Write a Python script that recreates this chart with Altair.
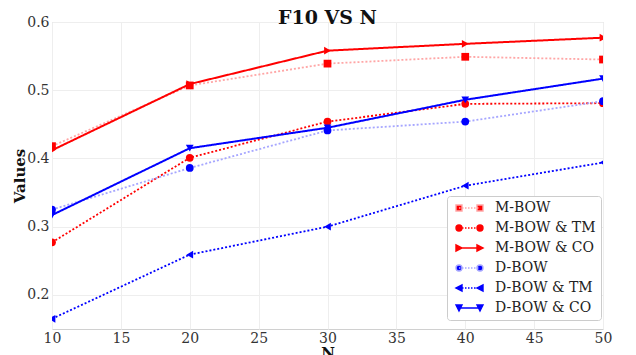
import altair as alt
import pandas as pd

# ---------------- data ----------------
N = [10, 20, 30, 40, 50]
series_names = ["M-BOW", "M-BOW & TM", "M-BOW & CO", "D-BOW", "D-BOW & TM", "D-BOW & CO"]
m_bow = [0.418, 0.507, 0.539, 0.549, 0.545]
m_bow_tm = [0.277, 0.401, 0.454, 0.480, 0.481]
m_bow_co = [0.412, 0.509, 0.558, 0.568, 0.577]
d_bow = [0.325, 0.386, 0.441, 0.454, 0.484]
d_bow_tm = [0.165, 0.259, 0.300, 0.360, 0.394]
d_bow_co = [0.317, 0.415, 0.445, 0.486, 0.517]
values = [m_bow, m_bow_tm, m_bow_co, d_bow, d_bow_tm, d_bow_co]

x_ticks = [10, 15, 20, 25, 30, 35, 40, 45, 50]
y_ticks = [0.2, 0.3, 0.4, 0.5, 0.6]

# ---------------- styles ----------------
RED, BLUE = "#ff0000", "#0000ff"
LRED, LBLUE = "#ffa6a6", "#a6a6ff"
colors = [RED, RED, RED, BLUE, BLUE, BLUE]
line_colors = [LRED, RED, RED, LBLUE, BLUE, BLUE]
dotted = [True, True, False, True, True, False]
markers = ["square", "circle", "triangle-right", "circle", "triangle-left", "triangle-down"]
SERIF = "DejaVu Serif"

rows = []
for name, vals in zip(series_names, values):
    for n, v in zip(N, vals):
        rows.append({"N": n, "value": v, "series": name})
df = pd.DataFrame(rows)

x_enc = alt.X("N:Q", scale=alt.Scale(domain=[10, 50], nice=False, zero=False),
              axis=alt.Axis(values=x_ticks, title="N", format="d", labelFlush=False,
                            labelPadding=2, titlePadding=0))
y_enc = alt.Y("value:Q", scale=alt.Scale(domain=[0.15, 0.6], nice=False, zero=False),
              axis=alt.Axis(values=y_ticks, title="Values", format=".1f", labelFlush=False,
                            labelPadding=3, titlePadding=-1))

# ---------- legend symbols (line with a marker at each end) ----------
# unit = 6 px (symbolSize 144); drawn to the right of the symbol slot
def marker_path(kind, cx, h=0.5):
    l, r = cx - h, cx + h
    if kind == "square":
        return f"M{l},{-h}H{r}V{h}H{l}Z"
    if kind == "circle":
        return f"M{r},0A{h},{h} 0 1,1 {l},0A{h},{h} 0 1,1 {r},0Z"
    if kind == "triangle-right":
        return f"M{l},{-h}L{r},0L{l},{h}Z"
    if kind == "triangle-left":
        return f"M{r},{-h}L{l},0L{r},{h}Z"
    if kind == "triangle-down":
        return f"M{l},{-h}H{r}L{cx},{h}Z"
    return ""

A, B = 0.0, 3.5

def line_path(is_dotted, a=A, b=B):
    if not is_dotted:
        return f"M{a},0H{b}"
    parts, s = [], a
    while s < b:
        e = min(s + 0.25, b)
        parts.append(f"M{s:.3f},0H{e:.3f}")
        s += 0.5
    return "".join(parts)

legend_shapes = [
    line_path(d) + marker_path(m, A) + marker_path(m, B)
    for d, m in zip(dotted, markers)
]

layers = []
for i, name in enumerate(series_names):
    sub = alt.Chart(df).transform_filter(alt.datum.series == name)
    line = sub.mark_line(
        color=line_colors[i],
        strokeWidth=1.8 if dotted[i] else 2,
        strokeDash=[2, 2] if dotted[i] else [1, 0],
        clip=True,
    ).encode(x=x_enc, y=y_enc)
    layers.append(line)
for i, name in enumerate(series_names):
    sub = alt.Chart(df).transform_filter(alt.datum.series == name)
    pts = sub.mark_point(
        shape=markers[i], filled=True, color=colors[i], opacity=1,
        size=60, clip=True,
    ).encode(x=x_enc, y=y_enc)
    layers.append(pts)

legend_layer = alt.Chart(df).transform_filter("false").mark_point(filled=True, opacity=1).encode(
    x=x_enc,
    y=y_enc,
    fill=alt.Fill("series:N", scale=alt.Scale(domain=series_names, range=colors),
                  legend=alt.Legend(title=None)),
    stroke=alt.Stroke("series:N", scale=alt.Scale(domain=series_names, range=line_colors),
                      legend=alt.Legend(title=None)),
    shape=alt.Shape("series:N", scale=alt.Scale(domain=series_names, range=legend_shapes),
                    legend=alt.Legend(title=None)),
)
layers.append(legend_layer)

chart = alt.layer(*layers).properties(
    width=551,
    height=307,
    autosize=alt.AutoSizeParams(type="none"),
    padding={"left": 44, "top": 14, "right": 25, "bottom": 26},
    title=alt.Title("F10 VS N", font=SERIF, fontSize=19, fontWeight="bold",
                    color="#111111", anchor="middle", frame="group", offset=0, dy=13),
).configure_view(
    stroke="#d0d0d0", strokeWidth=1,
).configure_axis(
    labelFont=SERIF, labelFontSize=14, labelColor="#333333",
    titleFont=SERIF, titleFontSize=15, titleFontWeight="bold", titleColor="#111111",
    gridColor="#eeeeee", gridWidth=1, domain=False, ticks=False,
).configure_legend(
    orient="none", legendX=395, legendY=174,
    fillColor="white", strokeColor="#cccccc", cornerRadius=3, padding=5,
    labelFont=SERIF, labelFontSize=14, labelColor="#222222",
    symbolSize=144, symbolStrokeWidth=1.4, rowPadding=6, labelOffset=29,
)

chart.save("out.html", embed_options={"renderer": "svg", "actions": False})
